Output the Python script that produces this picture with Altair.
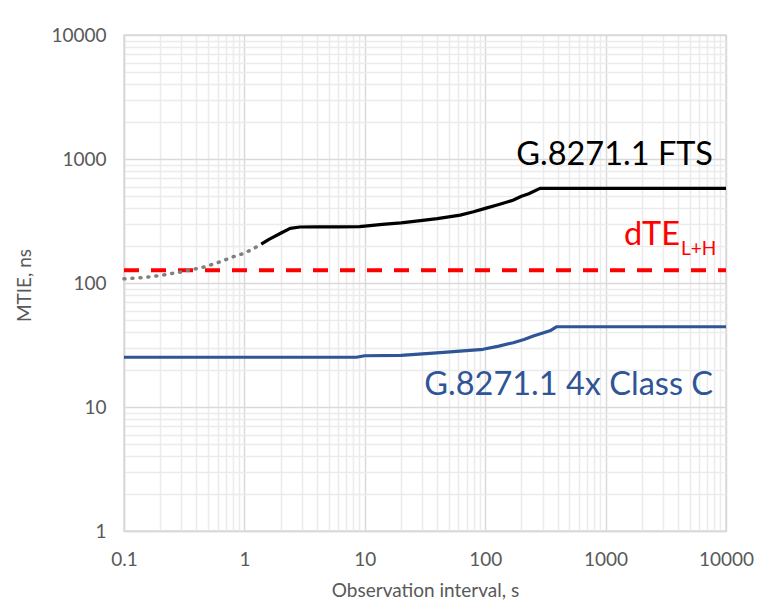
import altair as alt
import pandas as pd

# ---- data ----
# G.8271.1 FTS, dotted (extrapolated) part
fts_dot_x = [0.1, 0.15, 0.2, 0.3, 0.47, 0.65, 0.81, 1.0, 1.2, 1.38]
fts_dot_y = [108, 111, 115, 123, 135, 150, 163, 174, 190, 206]
# G.8271.1 FTS, solid part
fts_x = [1.38, 1.6, 2.0, 2.4, 2.9, 4, 6, 9, 10, 14, 20, 29, 40, 62, 80, 100, 130, 170, 200, 230, 285, 10000]
fts_y = [206, 225, 252, 276, 283, 284, 284, 285, 288, 297, 305, 318, 330, 353, 375, 400, 430, 465, 500, 525, 580, 580]
# G.8271.1 4x Class C
cls_x = [0.1, 8.5, 10, 20, 37, 45, 70, 96, 130, 171, 210, 251, 345, 393, 10000]
cls_y = [25.2, 25.2, 25.9, 26.1, 27.2, 27.6, 28.5, 29.2, 31, 33, 35, 37.4, 41.2, 44.4, 44.4]
# dTE L+H limit
dte_x = [0.1, 10000]
dte_y = [127, 127]

# axis ticks
decades_x = [0.1, 1, 10, 100, 1000, 10000]
decades_y = [1, 10, 100, 1000, 10000]
x_ticks = [m * d for d in decades_x[:-1] for m in range(1, 10)] + [decades_x[-1]]
y_ticks = [m * d for d in decades_y[:-1] for m in range(1, 10)] + [decades_y[-1]]

# annotation texts and anchor points (data coordinates)
lab_fts = {"text": "G.8271.1 FTS", "x": 7800, "y": 895}
lab_cls = {"text": "G.8271.1 4x Class C", "x": 7800, "y": 12.5}
lab_dte = {"text": "dTE", "x": 4150, "y": 202}
lab_sub = {"text": "L+H", "x": 4150, "y": 168}

FONT = "Lato"
GRAY = "#595959"
major_test = "abs(log(datum.value)/LN10 - round(log(datum.value)/LN10)) < 0.000001"
grid_color = {"condition": {"test": major_test, "value": "#d9d9d9"}, "value": "#ebebeb"}

x_axis = alt.Axis(
    values=x_ticks,
    labelExpr=f"{major_test} ? format(datum.value, '~g') : ''",
    ticks=False, labelOverlap=False, labelFlush=False,
    grid=True, gridColor=grid_color, gridWidth=1.5,
    domainColor="#d9d9d9", domainWidth=1.5,
    labelFont=FONT, labelFontSize=19, labelColor=GRAY, labelPadding=19,
    title="Observation interval, s", titleFont=FONT, titleFontSize=19,
    titleFontWeight="normal", titleColor=GRAY,
    titleX=301, titleY=59, titleBaseline="middle", titleAlign="center",
)
y_axis = alt.Axis(
    values=y_ticks,
    labelExpr=f"{major_test} ? format(datum.value, '~g') : ''",
    ticks=False, labelOverlap=False, labelFlush=False,
    grid=True, gridColor=grid_color, gridWidth=1.5,
    domainColor="#d9d9d9", domainWidth=1.5,
    labelFont=FONT, labelFontSize=19, labelColor=GRAY, labelPadding=18,
    title="MTIE, ns", titleFont=FONT, titleFontSize=19,
    titleFontWeight="normal", titleColor=GRAY,
    titleX=-100, titleY=250, titleBaseline="middle", titleAlign="center", titleAngle=270,
)

X = alt.X("x:Q", scale=alt.Scale(type="log", domain=[0.1, 10000], nice=False), axis=x_axis)
Y = alt.Y("y:Q", scale=alt.Scale(type="log", domain=[1, 10000], nice=False), axis=y_axis)


def frame(xs, ys):
    return pd.DataFrame({"x": xs, "y": ys})


dte = alt.Chart(frame(dte_x, dte_y)).mark_line(
    color="#ff0000", strokeWidth=4, strokeDash=[15, 12]
).encode(x=X, y=Y)

fts_dot = alt.Chart(frame(fts_dot_x, fts_dot_y)).mark_line(
    color="#808080", strokeWidth=3.5, strokeDash=[1, 7], strokeCap="round"
).encode(x=X, y=Y)

fts = alt.Chart(frame(fts_x, fts_y)).mark_line(
    color="#000000", strokeWidth=3.2, strokeJoin="round"
).encode(x=X, y=Y)

cls = alt.Chart(frame(cls_x, cls_y)).mark_line(
    color="#2f5597", strokeWidth=3.2, strokeJoin="round"
).encode(x=X, y=Y)


def label(d, color, size, align, dx=0):
    return alt.Chart(pd.DataFrame([d])).mark_text(
        font=FONT, fontSize=size, color=color, align=align,
        baseline="alphabetic", dx=dx
    ).encode(x=X, y=Y, text="text:N")


t_fts = label(lab_fts, "#000000", 32.5, "right")
t_cls = label(lab_cls, "#2f5597", 32.5, "right")
t_dte = label(lab_dte, "#ff0000", 32.5, "right")
t_sub = label(lab_sub, "#ff0000", 19, "left", dx=1)

chart = alt.layer(dte, fts_dot, fts, cls, t_fts, t_cls, t_dte, t_sub).properties(
    width=602, height=496,
    padding={"left": 116, "top": 27, "right": 32, "bottom": 70},
    autosize=alt.AutoSizeParams(type="none"),
    background="white",
).configure_view(stroke="#d9d9d9", strokeWidth=1.5)

chart.save("out.html", embed_options={"renderer": "svg", "actions": False})
